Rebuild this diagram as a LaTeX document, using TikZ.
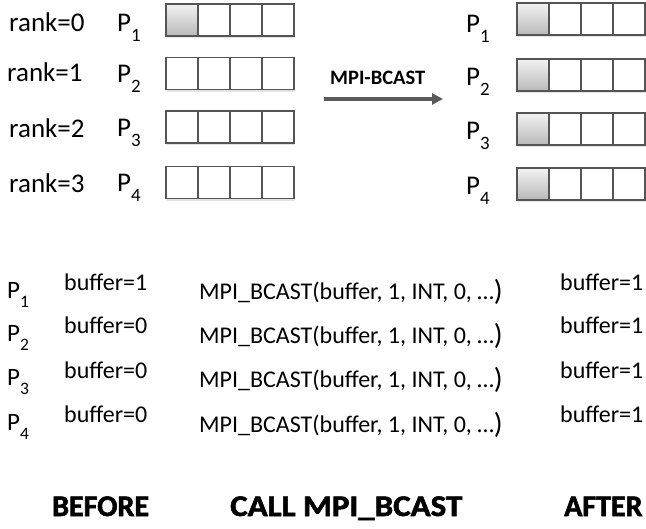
\documentclass[tikz,border=0pt]{standalone}
\usepackage{fontspec}
\setmainfont{Carlito}
\newfontfamily\heavyfont{Carlito}[BoldFeatures={FakeBold=1.8}]
\usetikzlibrary{shadows,arrows.meta}
\definecolor{edge}{HTML}{555555}
\definecolor{arrowgray}{HTML}{5A5A5A}
\tikzset{
  cell/.style={draw=edge, line width=1.3pt, fill=white, minimum width=32pt, minimum height=32pt, inner sep=0pt,
    drop shadow={shadow xshift=1.2pt, shadow yshift=-2.2pt, opacity=0.22}},
  filled/.style={cell, top color=gray!10, bottom color=gray!55},
  lbl/.style={anchor=base west, inner sep=0pt, font=\fontsize{27}{30}\selectfont},
  plbl/.style={anchor=base west, inner sep=0pt, font=\fontsize{27}{30}\selectfont},
  blbl/.style={anchor=base west, inner sep=0pt, font=\fontsize{24}{27}\selectfont},
  bp/.style={anchor=base west, inner sep=0pt, font=\fontsize{25}{28}\selectfont},
  title/.style={anchor=base west, inner sep=0pt, font=\heavyfont\bfseries\fontsize{30}{32}\selectfont},
}
\newcommand\Psub[1]{P\raisebox{-0.36em}{\fontsize{0.7em}{0.7em}\selectfont #1}}
\newcommand\strip[4]{% name, left x, top y, first style
  \node[#4] (#1a) at (#2+16,#3+16) {};
  \node[cell] (#1b) at (#2+48,#3+16) {};
  \node[cell] (#1c) at (#2+80,#3+16) {};
  \node[cell] (#1d) at (#2+112,#3+16) {};
}
\begin{document}
\begin{tikzpicture}[x=1pt,y=-1pt]
\useasboundingbox (0,0) rectangle (646,529);
% top left
\node[lbl] (r0) at (9,32) {rank=0};
\node[lbl] (r1) at (7,82) {rank=1};
\node[lbl] (r2) at (9,138) {rank=2};
\node[lbl] (r3) at (9,193) {rank=3};
\node[plbl] (lp1) at (117,32) {\Psub{1}};
\node[plbl] (lp2) at (117,83) {\Psub{2}};
\node[plbl] (lp3) at (117,137) {\Psub{3}};
\node[plbl] (lp4) at (117,192) {\Psub{4}};
\strip{L1}{166}{4}{filled}
\strip{L2}{166}{57.5}{cell}
\strip{L3}{166}{111}{cell}
\strip{L4}{166}{166.5}{cell}
% arrow
\coordinate (as) at (324,99);
\coordinate (ae) at (443,99);
\draw[arrowgray, line width=3.2pt, -{Triangle[length=11pt,width=11pt]}] (as) -- (ae);
\node[anchor=base west, inner sep=0pt, font=\bfseries\fontsize{20.5}{22}\selectfont] (bc) at (330,85) {MPI-BCAST};
% top right
\node[plbl] (rp1) at (466,33) {\Psub{1}};
\node[plbl] (rp2) at (466,86) {\Psub{2}};
\node[plbl] (rp3) at (466,140) {\Psub{3}};
\node[plbl] (rp4) at (466,195) {\Psub{4}};
\strip{R1}{517}{3}{filled}
\strip{R2}{517}{59}{filled}
\strip{R3}{517}{113}{filled}
\strip{R4}{517}{168}{filled}
% bottom
\foreach \n/\yb/\yp/\ym/\v in {1/291/299/300/1, 2/334/342/344/0, 3/379/386/388/0, 4/423/431/433/0}{
  \node[bp] (bp\n) at (7,\yp) {\Psub{\n}};
  \node[blbl] (bb\n) at (64,\yb) {buffer=\v};
  \node[blbl] (call\n) at (199,\ym) {MPI\_BCAST(buffer, 1, INT, 0, …{\fontsize{29}{30}\selectfont\raisebox{-1pt}{)}}};
  \node[blbl] (ba\n) at (560,\yb) {buffer=1};
}
\node[title] (before) at (52,516) {BEFORE};
\node[title, xscale=1.1] (callt) at (230,516) {CALL MPI\_BCAST};
\node[title] (after) at (564,516) {AFTER};
\end{tikzpicture}
\end{document}
